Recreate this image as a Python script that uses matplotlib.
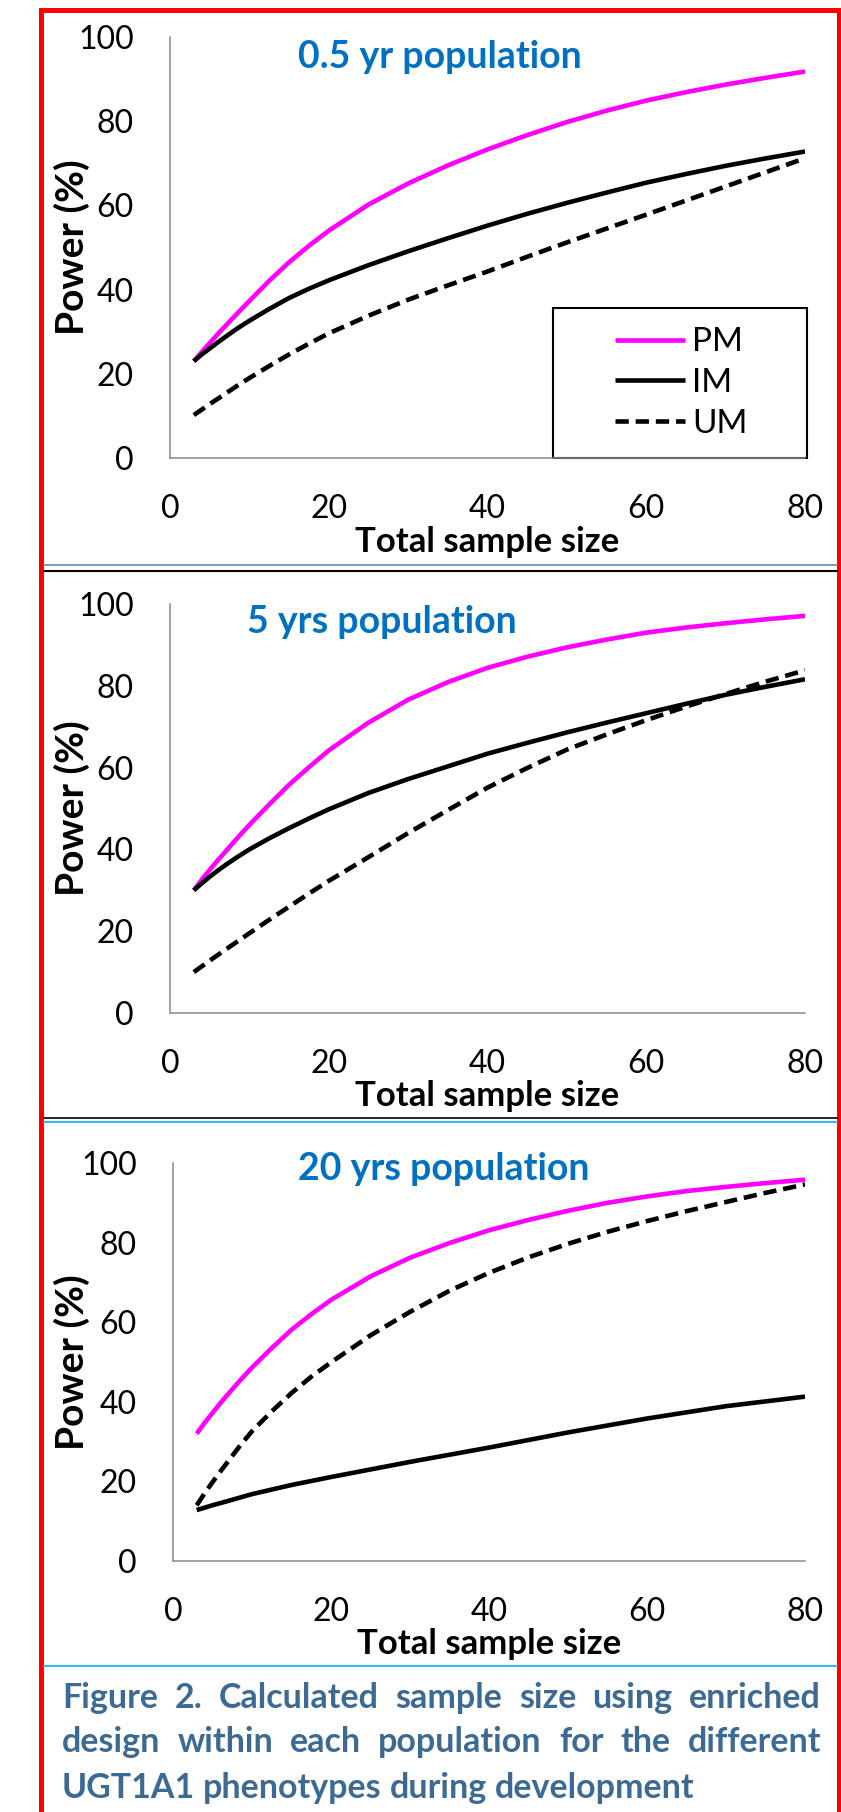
import matplotlib
matplotlib.use("Agg")
import matplotlib.pyplot as plt
from matplotlib.patches import Rectangle
from matplotlib.lines import Line2D

plt.rcParams["font.family"] = ["Lato", "DejaVu Sans"]

W, H, DPI = 841, 1812, 100

# values (power in % vs total sample size)
sample_size = [3, 4, 5, 6, 7, 8.5, 10, 12.5, 15, 17.5, 20, 25, 30, 35, 40,
               45, 50, 55, 60, 65, 70, 75, 80]

pm_05 = [23, 25.2, 27.3, 29.4, 31.4, 34.4, 37.3, 42.1, 46.5, 50.4, 54, 60.2,
         65.2, 69.5, 73.3, 76.7, 79.8, 82.5, 84.9, 86.9, 88.7, 90.3, 91.8]
im_05 = [23, 24.6, 26, 27.45, 28.8, 30.8, 32.6, 35.4, 38, 40.2, 42.2, 45.8,
         49.1, 52.2, 55.2, 58, 60.6, 63.05, 65.4, 67.45, 69.4, 71.15, 72.8]
um_05 = [10.2, 11.5, 12.8, 14.05, 15.3, 17.2, 19, 21.85, 24.6, 27.15, 29.6, 33.8,
         37.6, 41, 44.3, 47.8, 51.2, 54.5, 57.8, 61.15, 64.5, 67.85, 71.2]

pm_5 = [30, 32.6, 35, 37.3, 39.5, 42.8, 46, 51, 55.8, 60.1, 64.2, 71,
        76.6, 80.9, 84.4, 87.1, 89.4, 91.3, 93, 94.25, 95.3, 96.25, 97.1]
im_5 = [30, 31.7, 33.3, 34.8, 36.2, 38.15, 40, 42.7, 45.2, 47.55, 49.8, 53.8,
        57.2, 60.3, 63.4, 66.05, 68.6, 71, 73.3, 75.6, 77.8, 79.75, 81.6]
um_5 = [10, 11.4, 12.8, 14.15, 15.5, 17.5, 19.5, 22.8, 26, 29.2, 32.3, 38.1,
        44, 49.6, 55.1, 59.9, 64.4, 68.1, 71.6, 74.9, 78, 81, 83.8]

pm_20 = [32, 34.7, 37.2, 39.7, 42, 45.4, 48.6, 53.5, 58.1, 62, 65.6, 71.5,
         76.2, 79.9, 83.1, 85.7, 88, 90, 91.6, 92.95, 94, 94.95, 95.8]
im_20 = [12.8, 13.4, 14, 14.55, 15.1, 15.95, 16.8, 17.95, 19.1, 20.1, 21.1, 23,
         24.9, 26.7, 28.5, 30.4, 32.3, 34.05, 35.8, 37.35, 38.9, 40.1, 41.3]
um_20 = [14, 17, 19.8, 22.5, 25.1, 29, 32.6, 37.6, 42.2, 46.3, 49.9, 56.7,
         62.6, 67.9, 72.4, 76.3, 79.7, 82.7, 85.4, 87.9, 90.2, 92.5, 94.6]

titles = ["0.5 yr population", "5 yrs population", "20 yrs population"]
names = ["PM", "IM", "UM"]
xticks = [0, 20, 40, 60, 80]
yticks = [0, 20, 40, 60, 80, 100]
caption = ["Figure 2. Calculated sample size using enriched",
           "design within each population for the different",
           "UGT1A1 phenotypes during development"]

panels = [(pm_05, im_05, um_05), (pm_5, im_5, um_5), (pm_20, im_20, um_20)]

# axes boxes in pixels: left, right, top, bottom
boxes = [(170, 805, 37, 458), (170, 805, 604, 1013), (173, 805, 1163, 1561)]
# title position: left px, baseline px
title_pos = [(298, 68), (247, 633), (298, 1180)]

fig = plt.figure(figsize=(W / DPI, H / DPI), dpi=DPI)
fig.patch.set_facecolor("white")

styles = [dict(color="#FF00FF", ls="-"), dict(color="black", ls="-"),
          dict(color="black", ls=(0, (2.9, 1.5)))]

for i, (series, box, tp) in enumerate(zip(panels, boxes, title_pos)):
    l, r, t, b = box
    ax = fig.add_axes([l / W, 1 - b / H, (r - l) / W, (b - t) / H])
    for vals, name, st in zip(series, names, styles):
        ax.plot(sample_size, vals, lw=3.3, label=name, dash_capstyle="butt",
                solid_capstyle="butt", solid_joinstyle="round", **st)
    ax.set_xlim(0, 80)
    ax.set_ylim(0, 100)
    ax.set_xticks(xticks)
    ax.set_yticks(yticks)
    ax.tick_params(length=0, labelsize=23)
    ax.tick_params(axis="x", pad=26)
    ax.tick_params(axis="y", pad=26)
    for s in ["top", "right"]:
        ax.spines[s].set_visible(False)
    for s in ["left", "bottom"]:
        ax.spines[s].set_color("#898989")
        ax.spines[s].set_linewidth(1.1)
    ax.set_xlabel("Total sample size", fontsize=25, fontweight="bold", labelpad=1)
    ax.set_ylabel("Power (%)", fontsize=28, fontweight="bold")
    ax.yaxis.set_label_coords((90 - l) / (r - l), 0.5)
    ax.text((tp[0] - l) / (r - l), (b - tp[1]) / (b - t), titles[i],
            transform=ax.transAxes, ha="left", va="baseline",
            fontsize=27, fontweight="bold", color="#0070C0")
    if i == 0:
        ax.legend(loc="center", bbox_to_anchor=(0.805, 0.178), frameon=False,
                  fontsize=24, handlelength=2.1, handletextpad=0.2,
                  labelspacing=0.32, borderpad=0)
        ax.add_patch(Rectangle((0.603, 0), 0.4, 0.356, transform=ax.transAxes,
                               fill=False, ec="black", lw=1.5, clip_on=False))

# frame and separators of the figure box
fig.add_artist(Rectangle((41 / W, -0.01), (839 - 41) / W, 1.01 - 10 / H,
                         transform=fig.transFigure, fill=False,
                         ec="#FF0000", lw=3.6))
for y, c, lw in [(565, "#4F81BD", 1.1), (571, "black", 1.5),
                 (1118, "black", 1.2), (1122, "#20B2EE", 1.3), (1666, "#20B2EE", 1.3)]:
    fig.add_artist(Line2D([44 / W, 837 / W], [1 - y / H, 1 - y / H],
                          transform=fig.transFigure, color=c, lw=lw))

# justified caption
renderer = fig.canvas.get_renderer()
cap_x0, cap_x1 = 62, 821
baselines = [1708, 1752, 1798]
for k, (line, yb) in enumerate(zip(caption, baselines)):
    words = line.split(" ")
    objs = [fig.text(0, 1 - yb / H, w, fontsize=24.5, fontweight="bold",
                     color="#3D6A92", va="baseline", ha="left") for w in words]
    widths = [o.get_window_extent(renderer).width for o in objs]
    if k < 2:
        gap = (cap_x1 - cap_x0 - sum(widths)) / (len(words) - 1)
    else:
        gap = 8
    x = cap_x0
    for o, wd in zip(objs, widths):
        o.set_x(x / W)
        x += wd + gap

fig.savefig("out.png", dpi=DPI)
